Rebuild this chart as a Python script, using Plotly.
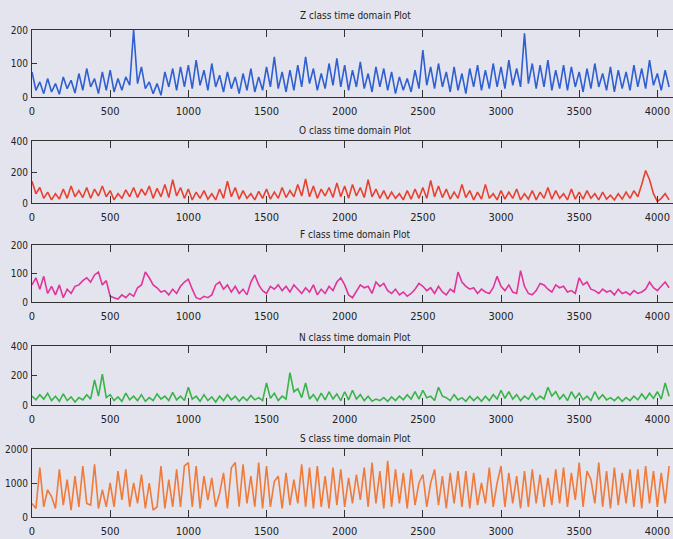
import numpy as np
import plotly.graph_objects as go

# sample step between the values
STEP = 25

z_values = [
    75, 20, 45, 10, 55, 15, 40, 8, 60, 25, 50, 12, 70, 20, 85, 30, 55, 10, 75, 20,
    80, 15, 55, 20, 60, 35, 200, 40, 90, 25, 45, 10, 40, 5, 75, 30, 85, 20, 90, 30,
    95, 25, 110, 35, 80, 20, 100, 30, 65, 15, 75, 25, 60, 10, 70, 20, 85, 15, 60, 20,
    90, 30, 120, 25, 75, 15, 80, 20, 95, 30, 120, 40, 85, 20, 70, 25, 100, 35, 115, 30,
    95, 20, 80, 30, 105, 25, 70, 15, 90, 30, 85, 20, 75, 10, 60, 20, 55, 15, 80, 25,
    140, 35, 90, 25, 100, 30, 75, 15, 90, 20, 70, 10, 85, 30, 95, 20, 80, 25, 100, 30,
    90, 25, 110, 35, 85, 30, 190, 40, 100, 25, 95, 30, 110, 20, 80, 25, 95, 20, 90, 30,
    75, 15, 85, 25, 100, 30, 70, 20, 90, 15, 80, 25, 75, 20, 95, 30, 85, 25, 110, 35,
    70, 20, 80, 30,
]

o_values = [
    140, 60, 100, 30, 70, 20, 60, 25, 90, 30, 110, 40, 80, 35, 100, 30, 90, 45, 110, 40,
    80, 20, 60, 30, 85, 40, 100, 35, 90, 50, 110, 30, 95, 40, 120, 35, 150, 45, 100, 30,
    90, 20, 70, 30, 80, 25, 60, 20, 90, 30, 140, 40, 100, 25, 80, 30, 60, 20, 75, 30,
    90, 25, 70, 30, 100, 35, 80, 40, 120, 45, 155, 40, 110, 30, 90, 45, 100, 35, 130, 40,
    110, 30, 120, 45, 100, 35, 150, 40, 90, 30, 80, 25, 70, 30, 60, 20, 80, 25, 90, 30,
    100, 30, 145, 40, 110, 35, 90, 25, 70, 30, 120, 35, 80, 20, 70, 25, 120, 30, 60, 20,
    80, 25, 70, 30, 90, 20, 60, 25, 80, 20, 70, 30, 100, 25, 80, 30, 60, 20, 90, 25,
    70, 25, 80, 30, 60, 20, 70, 25, 50, 20, 60, 25, 70, 30, 80, 40, 120, 210, 150, 60,
    10, 30, 60, 20,
]

f_values = [
    60, 85, 45, 90, 30, 55, 25, 60, 15, 45, 30, 55, 60, 75, 85, 70, 95, 105, 60, 75,
    20, 15, 10, 25, 15, 30, 20, 50, 60, 105, 85, 60, 50, 35, 40, 25, 45, 30, 55, 70,
    80, 45, 15, 10, 20, 15, 25, 60, 70, 45, 60, 35, 55, 30, 45, 25, 70, 95, 60, 40,
    30, 55, 45, 60, 40, 55, 35, 60, 45, 30, 50, 35, 60, 25, 45, 30, 55, 40, 70, 85,
    60, 25, 15, 40, 60, 50, 55, 30, 70, 55, 65, 40, 30, 45, 25, 35, 20, 30, 45, 65,
    55, 40, 50, 30, 55, 35, 25, 45, 35, 105, 70, 55, 45, 50, 30, 45, 35, 30, 50, 90,
    55, 40, 60, 35, 30, 110, 55, 30, 25, 40, 65, 60, 45, 35, 60, 50, 55, 35, 40, 30,
    85, 60, 70, 45, 40, 30, 45, 35, 40, 25, 45, 30, 35, 25, 40, 30, 35, 45, 70, 50,
    40, 55, 70, 50,
]

n_values = [
    60, 35, 70, 40, 80, 30, 60, 25, 75, 30, 55, 20, 50, 35, 70, 40, 170, 60, 210, 50,
    70, 30, 55, 25, 80, 35, 60, 30, 70, 25, 50, 30, 75, 40, 60, 30, 85, 35, 60, 30,
    120, 40, 60, 25, 70, 30, 55, 20, 60, 30, 70, 35, 60, 25, 55, 30, 65, 35, 50, 30,
    150, 45, 80, 30, 60, 40, 220, 90, 110, 50, 150, 40, 70, 30, 80, 35, 90, 40, 75, 30,
    90, 35, 100, 40, 70, 30, 60, 25, 40, 30, 50, 25, 55, 30, 60, 35, 70, 40, 90, 40,
    100, 50, 60, 30, 120, 60, 50, 30, 70, 35, 50, 25, 60, 30, 55, 25, 60, 30, 70, 40,
    100, 45, 90, 40, 70, 30, 60, 40, 80, 35, 60, 40, 120, 60, 90, 40, 70, 30, 90, 45,
    80, 35, 60, 30, 90, 40, 70, 35, 50, 30, 55, 25, 50, 30, 60, 35, 75, 40, 80, 45,
    90, 40, 150, 60,
]

s_values = [
    400, 250, 1450, 300, 800, 600, 250, 1400, 350, 1100, 200, 1200, 300, 1500, 400, 350, 1550, 250, 800, 300,
    1000, 300, 1350, 500, 1400, 300, 1000, 400, 1250, 250, 1000, 200, 300, 1500, 250, 1100, 300, 1400, 300, 1500,
    1600, 300, 1500, 250, 1200, 500, 1150, 300, 700, 1300, 250, 1450, 1600, 300, 1550, 400, 1200, 300, 1600, 250,
    1500, 300, 1050, 1200, 250, 1300, 350, 1100, 400, 1550, 300, 1450, 250, 1500, 300, 1200, 250, 1450, 350, 1400,
    300, 1150, 400, 1250, 500, 1450, 300, 1600, 400, 1350, 250, 1650, 300, 1400, 400, 1300, 250, 1400, 350, 1000,
    1250, 300, 1000, 1400, 350, 1200, 250, 1300, 400, 1350, 300, 1350, 250, 1300, 350, 1000, 400, 1450, 300, 1000,
    1500, 300, 1300, 400, 1200, 250, 1350, 300, 1400, 400, 1250, 300, 1150, 350, 1400, 400, 1450, 300, 1300, 500,
    1600, 300, 1350, 1100, 400, 1600, 300, 1350, 250, 1450, 350, 1300, 400, 1400, 300, 1400, 250, 1500, 400, 1350,
    300, 1300, 400, 1500,
]

titles = ["Z class time domain Plot", "O class time domain Plot", "F class time domain Plot",
          "N class time domain Plot", "S class time domain Plot"]
series = [z_values, o_values, f_values, n_values, s_values]
y_max = [200, 400, 200, 400, 2000]
y_ticks = [[0, 100, 200], [0, 200, 400], [0, 100, 200], [0, 200, 400], [0, 1000, 2000]]
x_ticks = [0, 500, 1000, 1500, 2000, 2500, 3000, 3500, 4000]
colors = ["#2f5fd0", "#e8412f", "#e0359b", "#38b448", "#f07a3a"]

W, H = 673, 539
BG = "#e4e4ee"
FONT = "DejaVu Sans Condensed, Liberation Sans Narrow, Arial Narrow, sans-serif"
# panel pixel boxes (top, bottom)
boxes = [(30, 97), (141, 203), (245, 302), (346, 405), (449, 517)]
title_y = [15, 130, 235, 337, 438]

fig = go.Figure()
layout = {}
annotations = []
for i, (vals, col) in enumerate(zip(series, colors)):
    n = i + 1
    xs = np.arange(len(vals)) * STEP
    fig.add_trace(go.Scatter(x=xs, y=vals, mode="lines",
                             line=dict(color=col, width=1.6),
                             xaxis=f"x{n}", yaxis=f"y{n}", showlegend=False,
                             hoverinfo="skip"))
    top, bot = boxes[i]
    layout[f"xaxis{n}"] = dict(
        domain=[0, 1], anchor=f"y{n}", range=[0, 4100],
        tickvals=x_ticks, ticktext=[str(v) for v in x_ticks],
        ticks="inside", ticklen=7, tickcolor="#333", tickwidth=1,
        showline=True, linecolor="#333", linewidth=1, mirror="ticks",
        showgrid=False, zeroline=False, automargin=False,
        ticklabeloverflow="allow", ticklabelstandoff=4,
        tickfont=dict(family=FONT, size=11, color="#222"),
    )
    layout[f"yaxis{n}"] = dict(
        domain=[1 - bot / H, 1 - top / H], anchor=f"x{n}", range=[0, y_max[i]],
        tickvals=y_ticks[i], ticktext=[str(v) for v in y_ticks[i]],
        ticks="inside", ticklen=5, tickcolor="#333", tickwidth=1,
        showline=True, linecolor="#333", linewidth=1, mirror=False,
        showgrid=False, zeroline=False, automargin=False,
        ticklabeloverflow="allow",
        tickfont=dict(family=FONT, size=10, color="#222"), ticklabelstandoff=1,
    )
    annotations.append(dict(text=titles[i], x=(355 - 32) / (W - 32), xref="paper",
                            y=1 - title_y[i] / H, yref="paper",
                            xanchor="center", yanchor="middle", showarrow=False,
                            font=dict(family=FONT, size=10, color="#222")))

fig.update_layout(
    width=W, height=H,
    margin=dict(l=32, r=0, t=0, b=0),
    paper_bgcolor=BG, plot_bgcolor=BG,
    annotations=annotations,
    **layout,
)

fig.write_html("out.html")
